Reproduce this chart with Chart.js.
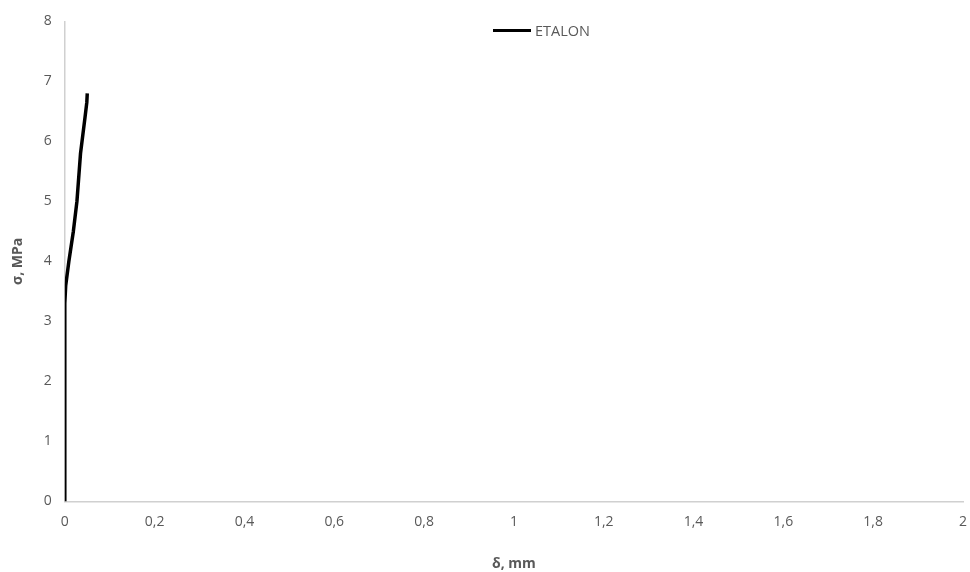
<!DOCTYPE html>
<html>
<head>
<meta charset="utf-8">
<script src="https://cdn.jsdelivr.net/npm/chart.js@4"></script>
<style>
  html, body { margin: 0; padding: 0; background: #fff; }
  #wrap { position: relative; width: 970px; height: 572px; }
  #legend { position: absolute; left: 493px; top: 21px; font: 14.5px 'Open Sans', 'Liberation Sans', sans-serif; color: #595959; display: flex; align-items: center; }
  #legend span.swatch { display: inline-block; width: 38px; height: 3px; background: #000; margin-right: 4px; }
</style>
</head>
<body>
<div id="wrap">
  <canvas id="myChart" width="970" height="572"></canvas>
  <div id="legend"></div>
</div>
<script>
// deformation (mm) vs stress (MPa)
const seriesName = 'ETALON';
const deltaMm = [0, 0, 0.002, 0.009, 0.019, 0.027, 0.031, 0.035, 0.040, 0.045, 0.049, 0.050];
const sigmaMPa = [0, 3.3, 3.6, 4.0, 4.5, 5.0, 5.4, 5.8, 6.1, 6.4, 6.65, 6.8];
const xTicks = [0, 0.2, 0.4, 0.6, 0.8, 1, 1.2, 1.4, 1.6, 1.8, 2];
const yTicks = [0, 1, 2, 3, 4, 5, 6, 7, 8];

const points = deltaMm.map((d, i) => ({ x: d, y: sigmaMPa[i] }));
const font = "'Open Sans', 'Liberation Sans', sans-serif";
const gray = '#595959';

document.getElementById('legend').innerHTML = '<span class="swatch"></span>' + seriesName;

const ctx = document.getElementById('myChart');
new Chart(ctx, {
    type: 'scatter',
    data: {
        datasets: [{
            label: seriesName,
            data: points,
            showLine: true,
            borderColor: '#000',
            backgroundColor: '#000',
            borderWidth: 3.5,
            borderJoinStyle: 'round',
            pointRadius: 0,
            tension: 0
        }]
    },
    options: {
        responsive: false,
        animation: false,
        layout: { padding: { top: 16, right: 0, left: 10, bottom: 0 } },
        plugins: {
            legend: { display: false },
            tooltip: { enabled: false }
        },
        scales: {
            x: {
                type: 'linear',
                min: 0,
                max: 2,
                afterBuildTicks: axis => { axis.ticks = xTicks.map(v => ({ value: v })); },
                afterFit: axis => { axis.paddingRight = 7; },
                ticks: {
                    color: gray,
                    font: { family: font, size: 14 },
                    padding: 12,
                    maxRotation: 0,
                    callback: v => String(v).replace('.', ',')
                },
                grid: { display: false, drawTicks: false },
                border: { display: true, color: '#d0d0d0', width: 1.5 },
                title: {
                    display: true,
                    text: 'δ, mm',
                    color: gray,
                    font: { family: font, size: 14, weight: 'bold' },
                    padding: { top: 13, bottom: 0 }
                }
            },
            y: {
                type: 'linear',
                min: 0,
                max: 8,
                afterBuildTicks: axis => { axis.ticks = yTicks.map(v => ({ value: v })); },
                ticks: {
                    color: gray,
                    font: { family: font, size: 14 },
                    padding: 13
                },
                grid: { display: false, drawTicks: false },
                border: { display: true, color: '#d0d0d0', width: 1.5 },
                title: {
                    display: true,
                    text: 'σ, MPa',
                    color: gray,
                    font: { family: font, size: 14, weight: 'bold' },
                    padding: { top: 0, bottom: 4 }
                }
            }
        }
    }
});
</script>
</body>
</html>
